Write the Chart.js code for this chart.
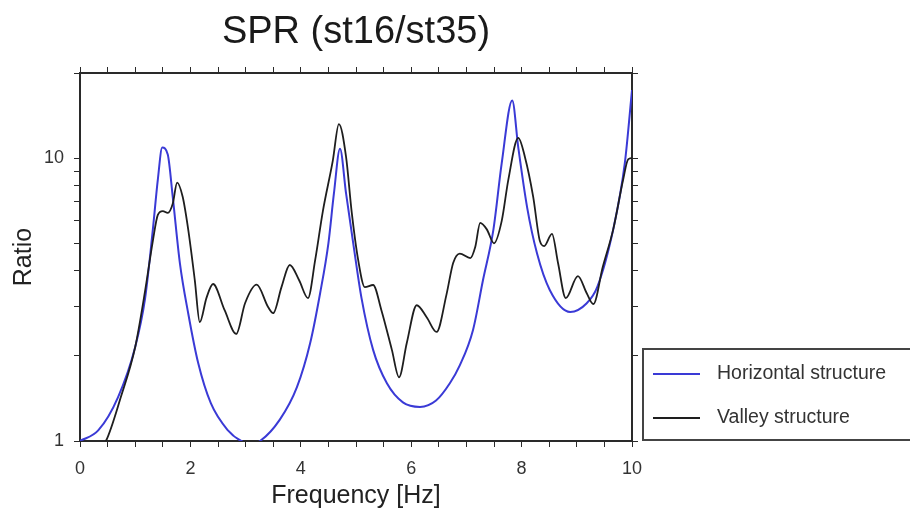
<!DOCTYPE html>
<html>
<head>
<meta charset="utf-8">
<script src="https://cdn.jsdelivr.net/npm/chart.js@4"></script>
<style>
  html, body { margin: 0; padding: 0; background: #fff; }
  #wrap { width: 910px; height: 513px; }
</style>
</head>
<body>
<div id="wrap"><canvas id="chart" width="910" height="513"></canvas></div>
<script>
// datos (frecuencia en Hz, cociente espectral)
const freqH  = [0, 0.33, 0.69, 1.0, 1.18, 1.32, 1.41, 1.49, 1.59, 1.68,
                1.81, 1.96, 2.14, 2.37, 2.68, 2.92, 3.1, 3.26, 3.62, 3.93,
                4.17, 4.35, 4.5, 4.6, 4.71, 4.82, 4.95, 5.1, 5.31, 5.56,
                5.85, 6.16, 6.45, 6.7, 6.88, 7.12, 7.3, 7.49, 7.64, 7.83,
                7.94, 8.1, 8.28, 8.51, 8.88, 9.18, 9.37, 9.66, 9.87, 10];
const ratioH = [1.0, 1.09, 1.43, 2.15, 3.2, 5.6, 8.4, 10.9, 10.3, 7.3,
                4.25, 2.83, 1.89, 1.36, 1.09, 1.0, 0.98, 1.0, 1.19, 1.55,
                2.22, 3.33, 5.0, 7.5, 10.8, 7.5, 5.0, 3.2, 2.1, 1.6,
                1.37, 1.32, 1.39, 1.6, 1.85, 2.47, 3.7, 5.6, 9.6, 16.0,
                10.9, 6.7, 4.6, 3.42, 2.86, 3.07, 3.5, 5.6, 9.6, 17.4];

const freqV  = [0, 0.25, 0.47, 0.74, 1.0, 1.18, 1.32, 1.41, 1.5, 1.59,
                1.68, 1.76, 1.86, 1.96, 2.08, 2.17, 2.29, 2.41, 2.62, 2.83,
                2.99, 3.2, 3.41, 3.5, 3.65, 3.8, 3.97, 4.13, 4.26, 4.4,
                4.58, 4.69, 4.82, 4.92, 5.04, 5.16, 5.31, 5.46, 5.65, 5.78,
                5.92, 6.1, 6.28, 6.46, 6.64, 6.76, 6.88, 7.07, 7.16, 7.25,
                7.37, 7.5, 7.64, 7.76, 7.94, 8.06, 8.21, 8.33, 8.41, 8.55,
                8.66, 8.8, 9.02, 9.18, 9.3, 9.47, 9.66, 9.84, 9.93, 10];
const ratioV = [0.82, 0.9, 1.0, 1.43, 2.15, 3.4, 5.1, 6.3, 6.5, 6.4,
                6.9, 8.2, 7.3, 5.6, 3.7, 2.63, 3.2, 3.59, 2.9, 2.39,
                3.07, 3.57, 2.97, 2.83, 3.5, 4.19, 3.7, 3.2, 4.36, 6.5,
                9.8, 13.2, 10.1, 6.5, 4.36, 3.5, 3.56, 2.9, 2.1, 1.68,
                2.22, 3.02, 2.74, 2.43, 3.3, 4.26, 4.6, 4.43, 4.85, 5.9,
                5.6, 5.0, 6.0, 8.4, 11.8, 10.1, 7.3, 5.1, 4.89, 5.4,
                4.26, 3.2, 3.83, 3.33, 3.05, 4.12, 5.6, 8.4, 9.9, 10.0];

const xLabels = [0, 2, 4, 6, 8, 10];
const yLabels = [1, 10];
const yTicks  = [1, 2, 3, 4, 5, 6, 7, 8, 9, 10, 20];

const seriesNames  = ['Horizontal structure', 'Valley structure'];
const seriesColors = ['#3a3ad6', '#1e1e1e'];

const FONT = "'Liberation Sans', Arial, Helvetica, sans-serif";
const AXIS = '#2a2a2a';

const toPts = (xs, ys) => xs.map((x, i) => ({ x: x, y: ys[i] }));
const setLogTicks = s => { s.ticks = yTicks.map(v => ({ value: v })); };

// leyenda dibujada a mano en el margen derecho
const legendBox = {
  id: 'legendBox',
  afterDraw(chart) {
    const ctx = chart.ctx;
    ctx.save();
    ctx.strokeStyle = '#444';
    ctx.lineWidth = 2;
    ctx.strokeRect(643, 349, 280, 91);
    ctx.font = '19.5px ' + FONT;
    ctx.textBaseline = 'middle';
    ctx.fillStyle = '#333';
    [374, 418].forEach((y, i) => {
      ctx.strokeStyle = seriesColors[i];
      ctx.lineWidth = 2;
      ctx.beginPath();
      ctx.moveTo(653, y);
      ctx.lineTo(700, y);
      ctx.stroke();
      ctx.fillText(seriesNames[i], 717, y);
    });
    ctx.restore();
  }
};

new Chart(document.getElementById('chart'), {
  type: 'line',
  data: {
    datasets: [
      {
        label: seriesNames[0],
        data: toPts(freqH, ratioH),
        borderColor: seriesColors[0],
        borderWidth: 2,
        pointRadius: 0,
        cubicInterpolationMode: 'monotone',
        order: 1
      },
      {
        label: seriesNames[1],
        data: toPts(freqV, ratioV),
        borderColor: seriesColors[1],
        borderWidth: 1.8,
        pointRadius: 0,
        cubicInterpolationMode: 'monotone',
        order: 0
      }
    ]
  },
  options: {
    responsive: false,
    animation: false,
    layout: { padding: { left: 0, right: 268, top: 0, bottom: 0 } },
    plugins: {
      legend: { display: false },
      tooltip: { enabled: false },
      title: {
        display: true,
        text: 'SPR (st16/st35)',
        fullSize: false,
        color: '#1a1a1a',
        font: { family: FONT, size: 38, weight: 'normal' },
        padding: { top: 10, bottom: 0 }
      }
    },
    scales: {
      x: {
        type: 'linear', position: 'bottom', min: 0, max: 10,
        ticks: {
          stepSize: 0.5, autoSkip: false, maxRotation: 0, padding: 11,
          color: '#333', font: { family: FONT, size: 18 },
          callback: v => xLabels.includes(v) ? String(v) : ''
        },
        grid: { drawOnChartArea: false, tickLength: 6, color: AXIS },
        border: { color: AXIS, width: 2 },
        title: {
          display: true, text: 'Frequency [Hz]', color: '#222',
          font: { family: FONT, size: 25 }, padding: { top: 0, bottom: 2 }
        },
        afterFit: s => { s.height = 72; }
      },
      x2: {
        type: 'linear', position: 'top', min: 0, max: 10,
        ticks: { display: false, stepSize: 0.5 },
        grid: { drawOnChartArea: false, tickLength: 6, color: AXIS },
        border: { color: AXIS, width: 2 },
        afterFit: s => { s.height = 17.4; }
      },
      y: {
        type: 'logarithmic', position: 'left', min: 1, max: 20,
        afterBuildTicks: setLogTicks,
        ticks: {
          autoSkip: false, padding: 10, color: '#333',
          font: { family: FONT, size: 18 },
          callback: v => yLabels.includes(v) ? String(v) : ''
        },
        grid: { drawOnChartArea: false, tickLength: 6, color: AXIS },
        border: { color: AXIS, width: 2 },
        title: {
          display: true, text: 'Ratio', color: '#222',
          font: { family: FONT, size: 25 }, padding: { top: 9, bottom: 0 }
        },
        afterFit: s => { s.width = 80; }
      },
      y2: {
        type: 'logarithmic', position: 'right', min: 1, max: 20,
        afterBuildTicks: setLogTicks,
        ticks: { display: false },
        grid: { drawOnChartArea: false, tickLength: 6, color: AXIS },
        border: { color: AXIS, width: 2 },
        afterFit: s => { s.width = 10; }
      }
    }
  },
  plugins: [legendBox]
});
</script>
</body>
</html>
